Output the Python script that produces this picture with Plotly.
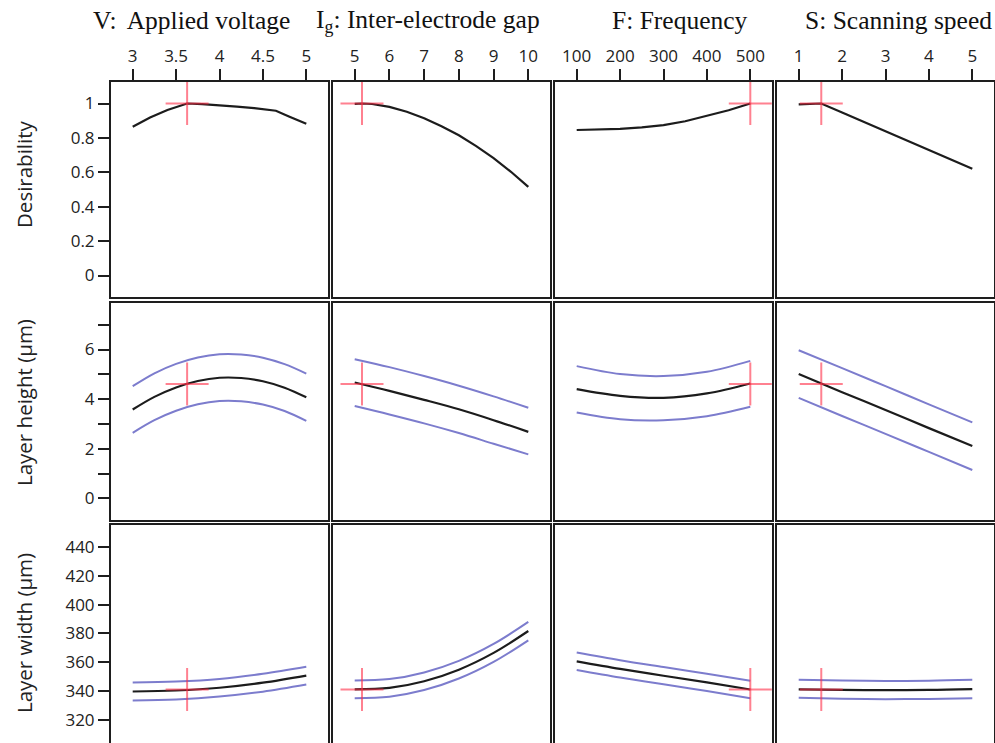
import plotly.graph_objects as go

# ---- factor / response labels ----
factor_titles = ["V:\u2009 Applied voltage", "I<sub>g</sub>: Inter-electrode gap",
                 "F: Frequency", "S: Scanning speed"]
response_titles = ["Desirability", "Layer height (μm)", "Layer width (μm)"]

v_ticks = [3, 3.5, 4, 4.5, 5]
ig_ticks = [5, 6, 7, 8, 9, 10]
f_ticks = [100, 200, 300, 400, 500]
s_ticks = [1, 2, 3, 4, 5]

# optimal setting of each factor and predicted responses there
optimum = [3.627, 5.21, 500, 1.52]
optimum_response = [1.0, 4.61, 341.3]

# ---- desirability ----
des_v_x = [3, 3.2, 3.4, 3.627, 3.8, 4.0, 4.2, 4.4, 4.65, 4.8, 5]
des_v = [0.865, 0.918, 0.962, 1.0, 0.996, 0.99, 0.982, 0.973, 0.958, 0.925, 0.882]
des_ig_x = [5, 5.21, 5.5, 6, 6.5, 7, 7.5, 8, 8.5, 9, 9.5, 10]
des_ig = [0.998, 1.0, 0.997, 0.98, 0.952, 0.914, 0.868, 0.815, 0.752, 0.683, 0.603, 0.515]
des_f_x = [100, 150, 200, 250, 300, 350, 400, 450, 500]
des_f = [0.846, 0.848, 0.853, 0.861, 0.874, 0.897, 0.927, 0.961, 1.0]
des_s_x = [1, 1.52, 2, 2.5, 3, 3.5, 4, 4.5, 5]
des_s = [0.995, 1.0, 0.948, 0.894, 0.84, 0.785, 0.731, 0.676, 0.621]

# ---- layer height (µm): fit, upper and lower limits ----
v_x = [3, 3.25, 3.5, 3.75, 4, 4.25, 4.5, 4.75, 5]
h_v = [3.58, 4.09, 4.47, 4.73, 4.86, 4.85, 4.72, 4.46, 4.07]
h_v_hi = [4.52, 5.04, 5.42, 5.68, 5.81, 5.80, 5.67, 5.41, 5.03]
h_v_lo = [2.64, 3.15, 3.53, 3.79, 3.92, 3.91, 3.78, 3.52, 3.12]

ig_x = [5, 6, 7, 8, 9, 10]
h_ig = [4.67, 4.33, 3.97, 3.59, 3.15, 2.68]
h_ig_hi = [5.61, 5.29, 4.93, 4.54, 4.11, 3.65]
h_ig_lo = [3.72, 3.38, 3.02, 2.63, 2.20, 1.77]

f_x = [100, 200, 300, 400, 500]
h_f = [4.40, 4.13, 4.05, 4.23, 4.63]
h_f_hi = [5.33, 5.01, 4.93, 5.10, 5.54]
h_f_lo = [3.46, 3.19, 3.15, 3.31, 3.69]

s_x = [1, 2, 3, 4, 5]
h_s = [5.01, 4.28, 3.56, 2.83, 2.11]
h_s_hi = [5.97, 5.25, 4.52, 3.79, 3.06]
h_s_lo = [4.05, 3.32, 2.60, 1.87, 1.14]

# ---- layer width (µm): fit, upper and lower limits ----
wv_x = [3, 3.5, 4, 4.5, 5]
w_v = [339.9, 340.6, 342.5, 346.0, 350.9]
w_v_hi = [346.1, 346.8, 348.6, 352.2, 357.0]
w_v_lo = [333.7, 334.4, 336.4, 339.8, 344.7]

w_ig = [341.4, 342.4, 347.0, 355.0, 366.6, 381.7]
w_ig_hi = [347.5, 348.5, 353.1, 361.1, 372.8, 388.0]
w_ig_lo = [335.3, 336.3, 340.9, 348.9, 360.4, 375.3]

w_f = [360.7, 355.5, 350.8, 346.2, 341.3]
w_f_hi = [366.8, 361.5, 356.8, 352.2, 347.4]
w_f_lo = [354.8, 349.6, 344.9, 340.2, 335.3]

w_s = [341.4, 341.0, 340.8, 341.0, 341.6]
w_s_hi = [348.1, 347.5, 347.2, 347.4, 348.0]
w_s_lo = [335.5, 334.9, 334.6, 334.8, 335.3]

# ---- axis settings ----
x_ranges = [[2.75, 5.25], [4.375, 10.625], [50, 550], [0.5, 5.5]]
x_tickvals = [v_ticks, ig_ticks, f_ticks, s_ticks]
y_ranges = [[-0.125, 1.125], [-0.875, 7.875], [304.3, 455]]
y_tickvals = [[0, 0.2, 0.4, 0.6, 0.8, 1],
              [0, 2, 4, 6],
              [320, 340, 360, 380, 400, 420, 440]]
y_ticktext = [["0", "0.2", "0.4", "0.6", "0.8", "1"],
              ["0", "2", "4", "6"],
              ["320", "340", "360", "380", "400", "420", "440"]]
y_minor_vals = [None, [1, 3, 5, 7], None]

W, H = 995, 743
ML, MR, MT, MB = 111, 1, 82, 0
PW, PH = W - ML - MR, H - MT - MB
col_left = [111, 333, 555, 777]
col_w = 217
row_top = [82, 303, 525]
row_bottom = [297, 520, 743]

MEAN_C = "#1c1c1c"
BAND_C = "#7c7ccd"
CROSS_C = "rgba(255,45,70,0.6)"
FRAME_C = "#1e1e1e"
TICK_FONT = dict(family="Open Sans", size=17, color="#222")
CROSS_HALF_PX = 21.5


def clamp(v):
    return max(0.0, min(1.0, v))


panels = [
    [(des_v_x, des_v, None, None), (des_ig_x, des_ig, None, None),
     (des_f_x, des_f, None, None), (des_s_x, des_s, None, None)],
    [(v_x, h_v, h_v_hi, h_v_lo), (ig_x, h_ig, h_ig_hi, h_ig_lo),
     (f_x, h_f, h_f_hi, h_f_lo), (s_x, h_s, h_s_hi, h_s_lo)],
    [(wv_x, w_v, w_v_hi, w_v_lo), (ig_x, w_ig, w_ig_hi, w_ig_lo),
     (f_x, w_f, w_f_hi, w_f_lo), (s_x, w_s, w_s_hi, w_s_lo)],
]

fig = go.Figure()
layout_axes = {}

for r in range(3):
    for c in range(4):
        k = r * 4 + c + 1
        xa = "x" if k == 1 else f"x{k}"
        ya = "y" if k == 1 else f"y{k}"
        xs, mean, hi, lo = panels[r][c]
        shape = "linear" if r == 0 else "spline"
        if hi is not None:
            for band in (hi, lo):
                fig.add_trace(go.Scatter(x=xs, y=band, mode="lines", xaxis=xa, yaxis=ya,
                                         line=dict(color=BAND_C, width=2, shape=shape),
                                         showlegend=False, hoverinfo="skip"))
        fig.add_trace(go.Scatter(x=xs, y=mean, mode="lines", xaxis=xa, yaxis=ya,
                                 line=dict(color=MEAN_C, width=2.2, shape=shape),
                                 showlegend=False))
        # optimum crosshair
        ox, oy = optimum[c], optimum_response[r]
        dx = CROSS_HALF_PX / col_w * (x_ranges[c][1] - x_ranges[c][0])
        span_px = row_bottom[r] - row_top[r]
        dy = CROSS_HALF_PX / span_px * (y_ranges[r][1] - y_ranges[r][0])
        fig.add_trace(go.Scatter(x=[ox - dx, ox + dx, None, ox, ox],
                                 y=[oy, oy, None, oy - dy, oy + dy],
                                 mode="lines", xaxis=xa, yaxis=ya,
                                 line=dict(color=CROSS_C, width=2),
                                 showlegend=False, hoverinfo="skip"))

        x0 = clamp((col_left[c] - ML) / PW)
        x1 = clamp((col_left[c] + col_w - ML) / PW)
        y0 = clamp((H - MB - row_bottom[r]) / PH)
        y1 = clamp((H - MB - row_top[r]) / PH)
        key_x = "xaxis" if k == 1 else f"xaxis{k}"
        key_y = "yaxis" if k == 1 else f"yaxis{k}"
        layout_axes[key_x] = dict(
            domain=[x0, x1], range=x_ranges[c], anchor=ya, side="top",
            showline=True, mirror=(r < 2), linecolor=FRAME_C, linewidth=2,
            showgrid=False, zeroline=False,
            ticks="outside" if r == 0 else "", ticklen=11, tickwidth=2, tickcolor=FRAME_C,
            tickvals=x_tickvals[c], showticklabels=(r == 0), tickfont=TICK_FONT,
            fixedrange=True,
        )
        yax = dict(
            domain=[y0, y1], range=y_ranges[r], anchor=xa,
            showline=True, mirror=True, linecolor=FRAME_C, linewidth=2,
            showgrid=False, zeroline=False,
            ticks="outside" if c == 0 else "", ticklen=11, tickwidth=2, tickcolor=FRAME_C,
            tickvals=y_tickvals[r], ticktext=y_ticktext[r],
            showticklabels=(c == 0), tickfont=TICK_FONT,
            fixedrange=True,
        )
        if c == 0 and y_minor_vals[r] is not None:
            yax["minor"] = dict(tickmode="array", tickvals=y_minor_vals[r],
                                ticks="outside", ticklen=11, tickwidth=2,
                                tickcolor=FRAME_C, showgrid=False)
        layout_axes[key_y] = yax

annotations = []
title_px = [191, 428, 680, 898]
for c, t in enumerate(factor_titles):
    annotations.append(dict(
        text=t, xref="paper", yref="paper",
        x=(title_px[c] - ML) / PW, y=1 + (MT - 21) / PH,
        xanchor="center", yanchor="middle", showarrow=False,
        font=dict(family="Liberation Serif", size=25.5, color="#111")))
ytitle_center_px = [175, 403, 633]
for r, t in enumerate(response_titles):
    annotations.append(dict(
        text=t, xref="paper", yref="paper",
        x=(24 - ML) / PW, y=(H - MB - ytitle_center_px[r]) / PH,
        xanchor="center", yanchor="middle", textangle=-90, showarrow=False,
        font=dict(family="Open Sans", size=20.5, color="#222")))

fig.update_layout(
    width=W, height=H,
    margin=dict(l=ML, r=MR, t=MT, b=MB),
    paper_bgcolor="white", plot_bgcolor="white",
    annotations=annotations,
    **layout_axes,
)

fig.write_html("out.html")
